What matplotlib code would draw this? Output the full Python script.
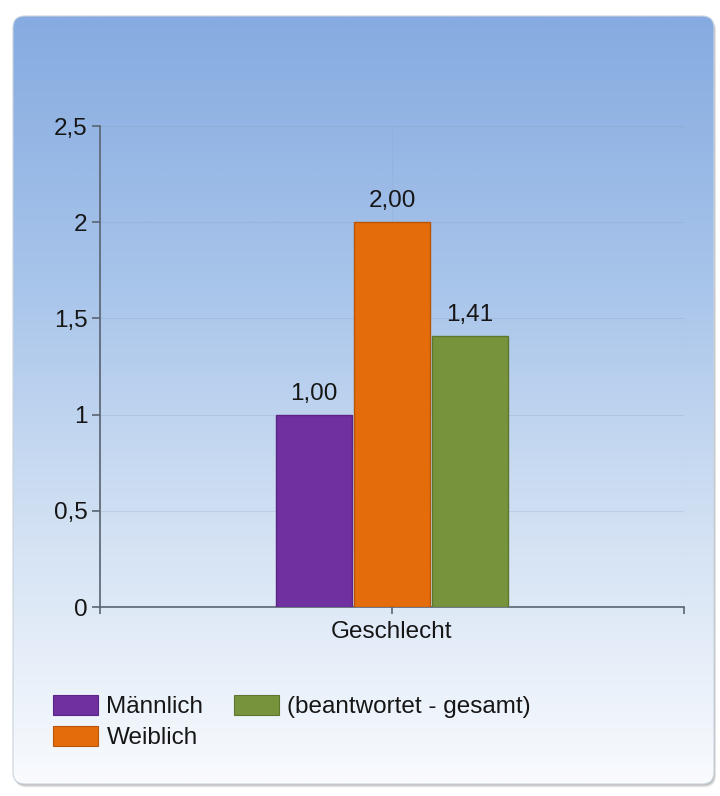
import numpy as np
import matplotlib
matplotlib.use("Agg")
import matplotlib.pyplot as plt
from matplotlib.patches import FancyBboxPatch, Patch
from matplotlib.colors import LinearSegmentedColormap

plt.rcParams["font.family"] = ["Liberation Sans", "DejaVu Sans"]

# Data
categories = ["Geschlecht"]
series_names = ["Männlich", "Weiblich", "(beantwortet - gesamt)"]
values = [1.00, 2.00, 1.41]
value_labels = ["1,00", "2,00", "1,41"]
y_ticks = [0, 0.5, 1, 1.5, 2, 2.5]
y_tick_labels = ["0", "0,5", "1", "1,5", "2", "2,5"]

bar_colors = ["#7030a0", "#e46c0a", "#77933c"]
edge_colors = ["#5a2585", "#b85508", "#5e772e"]
text_color = "#161616"
fs = 17.5

W, H = 720, 796
fig = plt.figure(figsize=(W / 100, H / 100), dpi=100)
fig.patch.set_facecolor("white")

# Background panel with rounded corners, drop shadow and vertical gradient
bg = fig.add_axes([0, 0, 1, 1], zorder=-1)
bg.set_xlim(0, W)
bg.set_ylim(H, 0)
bg.axis("off")

px, py, pw, ph = 13, 16, 701, 768
for off, a in [(3.5, 0.10), (2.5, 0.18), (1.5, 0.25)]:
    bg.add_patch(FancyBboxPatch((px + off * 0.6, py + off), pw, ph,
                                boxstyle="round,pad=0,rounding_size=12",
                                facecolor="#707070", edgecolor="none", alpha=a,
                                zorder=1))
panel = FancyBboxPatch((px, py), pw, ph, boxstyle="round,pad=0,rounding_size=12",
                       facecolor="none", edgecolor="#c9d3de", linewidth=0.8,
                       zorder=3)
bg.add_patch(panel)
grad_cmap = LinearSegmentedColormap.from_list(
    "panel", ["#86abe0", "#a6c3ea", "#d2e1f3", "#f9fbfe"])
grad = np.linspace(0, 1, 512).reshape(-1, 1)
im = bg.imshow(grad, extent=(px, px + pw, py + ph, py), aspect="auto",
               cmap=grad_cmap, interpolation="bilinear", zorder=2)
im.set_clip_path(panel)

# Chart area
ax = fig.add_axes([100 / W, 1 - 607 / H, 584 / W, 481 / H])
ax.patch.set_visible(False)

step = 0.1335
width = 0.130
for i, (name, v, c, ec) in enumerate(zip(series_names, values, bar_colors, edge_colors)):
    bars = ax.bar([(i - 1) * step], [v], width=width, color=c, edgecolor=ec,
                  linewidth=1.0, label=name, zorder=3)
    ax.bar_label(bars, labels=[value_labels[i]], padding=7, fontsize=fs,
                 color=text_color)

ax.set_xlim(-0.5, 0.5)
ax.set_ylim(0, 2.5)
ax.set_yticks(y_ticks)
ax.set_yticklabels(y_tick_labels)
ax.set_xticks([0])
ax.set_xticklabels(categories)
ax.set_xticks([-0.5, 0.5], minor=True)

spine_color = "#5a6472"
for s in ["top", "right"]:
    ax.spines[s].set_visible(False)
for s in ["left", "bottom"]:
    ax.spines[s].set_color(spine_color)
    ax.spines[s].set_linewidth(1.2)

ax.tick_params(axis="y", which="major", length=6, width=1.2, color=spine_color,
               pad=3, labelsize=fs, labelcolor=text_color)
ax.tick_params(axis="x", which="both", length=5, width=1.2, color=spine_color,
               pad=5, labelsize=fs, labelcolor=text_color)

ax.grid(True, axis="y", color="#7a8ea8", alpha=0.2, linewidth=0.8, zorder=0)
ax.grid(True, axis="x", which="both", color="#7a8ea8", alpha=0.12,
        linewidth=0.8, zorder=0)
ax.set_axisbelow(True)

# Legend below the chart
handles = [Patch(facecolor=c, edgecolor=ec, linewidth=0.8)
           for c, ec in zip(bar_colors, edge_colors)]
fig.legend(handles, series_names, ncol=2, loc="upper left",
           bbox_to_anchor=(53 / W, 1 - 695 / H), frameon=False, fontsize=fs,
           handlelength=1.85, handleheight=0.9, handletextpad=0.35,
           columnspacing=1.25, labelspacing=0.3, borderpad=0, borderaxespad=0,
           labelcolor=text_color)

fig.savefig("out.png", dpi=100, facecolor="white")
